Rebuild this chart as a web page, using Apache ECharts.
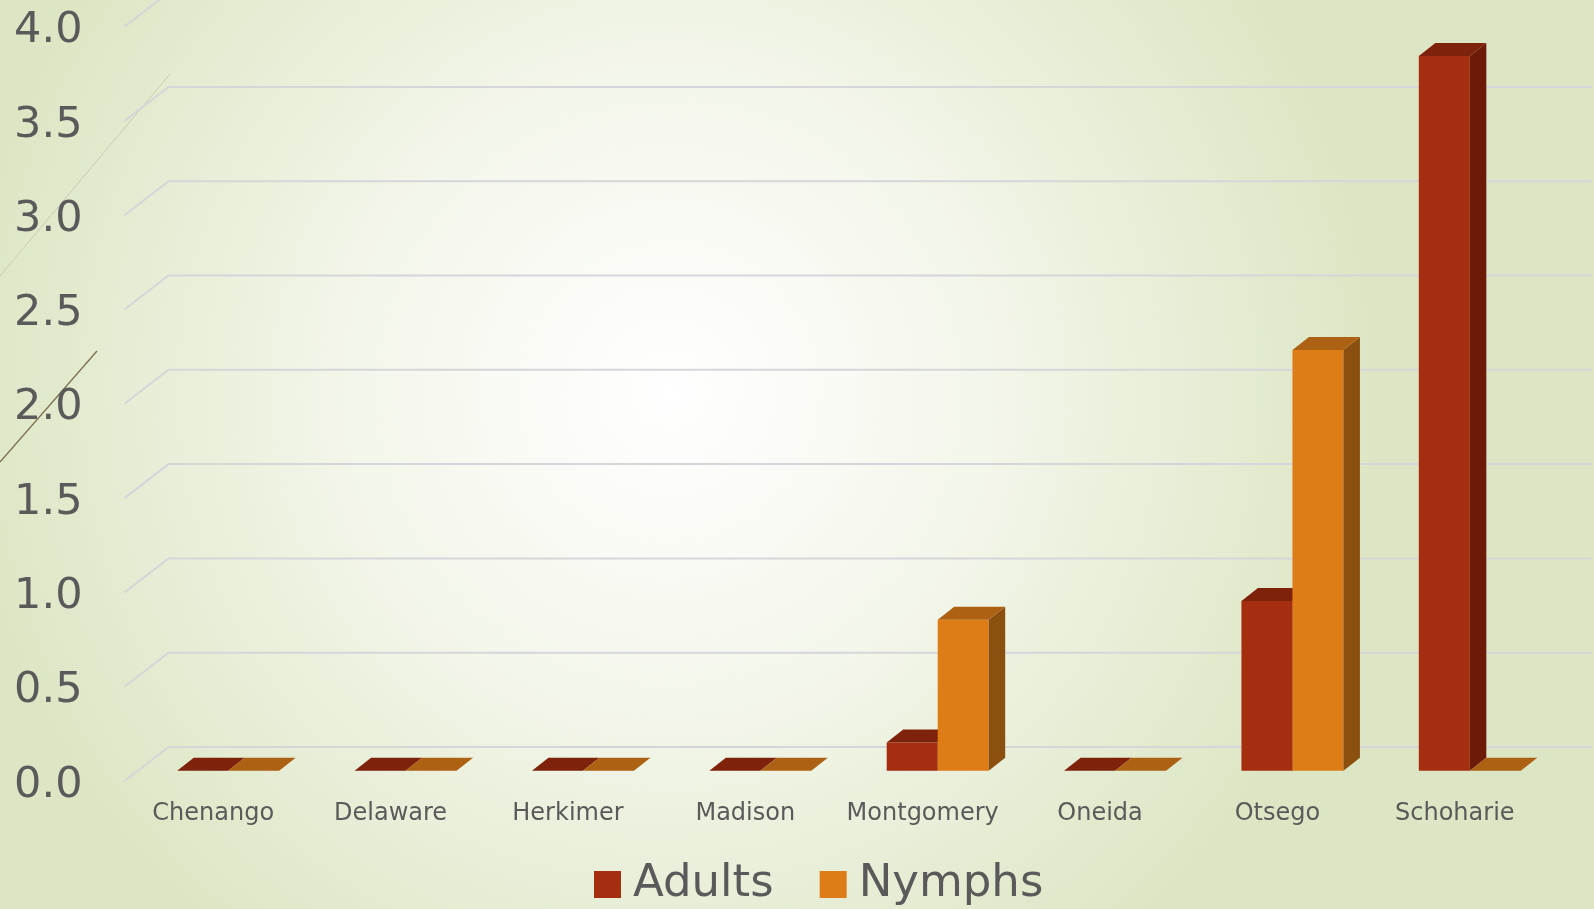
<!DOCTYPE html>
<html>
<head>
<meta charset="utf-8">
<script src="https://cdn.jsdelivr.net/npm/echarts@6/dist/echarts.min.js"></script>
<style>
  html, body { margin: 0; padding: 0; }
  #chart { width: 1594px; height: 909px; }
</style>
</head>
<body>
<div id="chart"></div>
<script>
// Counties and average counts per county
const counties = ['Chenango', 'Delaware', 'Herkimer', 'Madison', 'Montgomery', 'Oneida', 'Otsego', 'Schoharie'];
const adults = [0, 0, 0, 0, 0.15, 0, 0.9, 3.79];
const nymphs = [0, 0, 0, 0, 0.8, 0, 2.23, 0];
const yTicks = [0, 0.5, 1, 1.5, 2, 2.5, 3, 3.5, 4];

// Oblique projection offsets (pixels): front of bar from floor edge, bar depth, wall depth
const BAR_SHIFT = [15, -10.3];
const BAR_DEPTH = [16.5, -13];
const WALL_DEPTH = [44, -34];
const FONT = '"DejaVu Sans", "Noto Sans", sans-serif';
const TEXT = '#5a5a5a';

const palette = {
  Adults: { front: '#a52d10', top: '#7f220c', side: '#6b1b08' },
  Nymphs: { front: '#de7d18', top: '#ac6113', side: '#8b4f10' }
};

function poly(points, fill) {
  return { type: 'polygon', shape: { points: points }, style: { fill: fill, stroke: null } };
}

// One 3D column: front face, top face, right side face
function barRenderer(name, sideSign) {
  const c = palette[name];
  return function (params, api) {
    const idx = api.value(0);
    const val = api.value(1);
    const base = api.coord([idx, 0]);
    const top = api.coord([idx, val]);
    const w = api.size([1, 0])[0] * 0.2875;
    const cx = base[0] + BAR_SHIFT[0];
    const x0 = sideSign < 0 ? cx - w : cx;
    const x1 = x0 + w;
    const yb = base[1] + BAR_SHIFT[1];
    const yt = top[1] + BAR_SHIFT[1];
    const dx = BAR_DEPTH[0], dy = BAR_DEPTH[1];
    const children = [];
    if (yb - yt > 0.5) {
      children.push(poly([[x0, yt], [x1, yt], [x1, yb], [x0, yb]], c.front));
      children.push(poly([[x1, yt], [x1 + dx, yt + dy], [x1 + dx, yb + dy], [x1, yb]], c.side));
    }
    children.push(poly([[x0, yt], [x1, yt], [x1 + dx, yt + dy], [x0 + dx, yt + dy]], c.top));
    return { type: 'group', children: children };
  };
}

// Back-wall gridlines: a short diagonal along the side wall, then across the back
function gridRenderer(params, api) {
  const cs = params.coordSys;
  const y = api.coord([0, api.value(0)])[1];
  const x0 = cs.x;
  const x1 = cs.x + cs.width + WALL_DEPTH[0] + 4;
  return {
    type: 'polyline',
    shape: { points: [[x0, y], [x0 + WALL_DEPTH[0], y + WALL_DEPTH[1]], [x1, y + WALL_DEPTH[1]]] },
    style: { stroke: '#d5d6d9', lineWidth: 2, fill: null },
    silent: true
  };
}

const chart = echarts.init(document.getElementById('chart'), null, { renderer: 'canvas' });

chart.setOption({
  backgroundColor: new echarts.graphic.RadialGradient(0.42, 0.43, 0.78, [
    { offset: 0, color: '#ffffff' },
    { offset: 0.45, color: '#f3f6ea' },
    { offset: 1, color: '#dce6c4' }
  ]),
  animation: false,
  graphic: [
    { type: 'line', shape: { x1: 170, y1: 74, x2: 0, y2: 276 }, style: { stroke: '#c9ccb2', lineWidth: 1 }, silent: true },
    { type: 'line', shape: { x1: 97, y1: 351, x2: 0, y2: 462 }, style: { stroke: '#7d6f50', lineWidth: 1.3 }, silent: true }
  ],
  grid: { left: 124.5, right: 50.5, top: 26.6, bottom: 128, containLabel: false },
  legend: {
    data: ['Adults', 'Nymphs'],
    left: 589,
    top: 857,
    itemWidth: 27,
    itemHeight: 27,
    itemGap: 46,
    icon: 'rect',
    textStyle: { fontFamily: FONT, fontSize: 45, color: TEXT, padding: [0, 0, 0, 7] }
  },
  xAxis: {
    type: 'category',
    data: counties,
    axisLine: { show: false },
    axisTick: { show: false },
    splitLine: { show: false },
    axisLabel: { fontFamily: FONT, fontSize: 24, color: TEXT, margin: 21, interval: 0 }
  },
  yAxis: {
    type: 'value',
    min: 0,
    max: 4,
    interval: 0.5,
    axisLine: { show: false },
    axisTick: { show: false },
    splitLine: { show: false },
    axisLabel: {
      fontFamily: FONT, fontSize: 43, color: TEXT, margin: 42,
      verticalAlign: 'top',
      lineHeight: 9,
      formatter: v => v.toFixed(1)
    }
  },
  series: [
    {
      type: 'custom',
      name: 'gridlines',
      renderItem: gridRenderer,
      data: yTicks.map(v => [v]),
      encode: { y: 0 },
      silent: true,
      z: 1
    },
    {
      type: 'custom',
      name: 'Adults',
      itemStyle: { color: palette.Adults.front },
      renderItem: barRenderer('Adults', -1),
      data: adults.map((v, i) => [i, v]),
      encode: { x: 0, y: 1 },
      z: 2
    },
    {
      type: 'custom',
      name: 'Nymphs',
      itemStyle: { color: palette.Nymphs.front },
      renderItem: barRenderer('Nymphs', 1),
      data: nymphs.map((v, i) => [i, v]),
      encode: { x: 0, y: 1 },
      z: 3
    }
  ]
});
</script>
</body>
</html>
